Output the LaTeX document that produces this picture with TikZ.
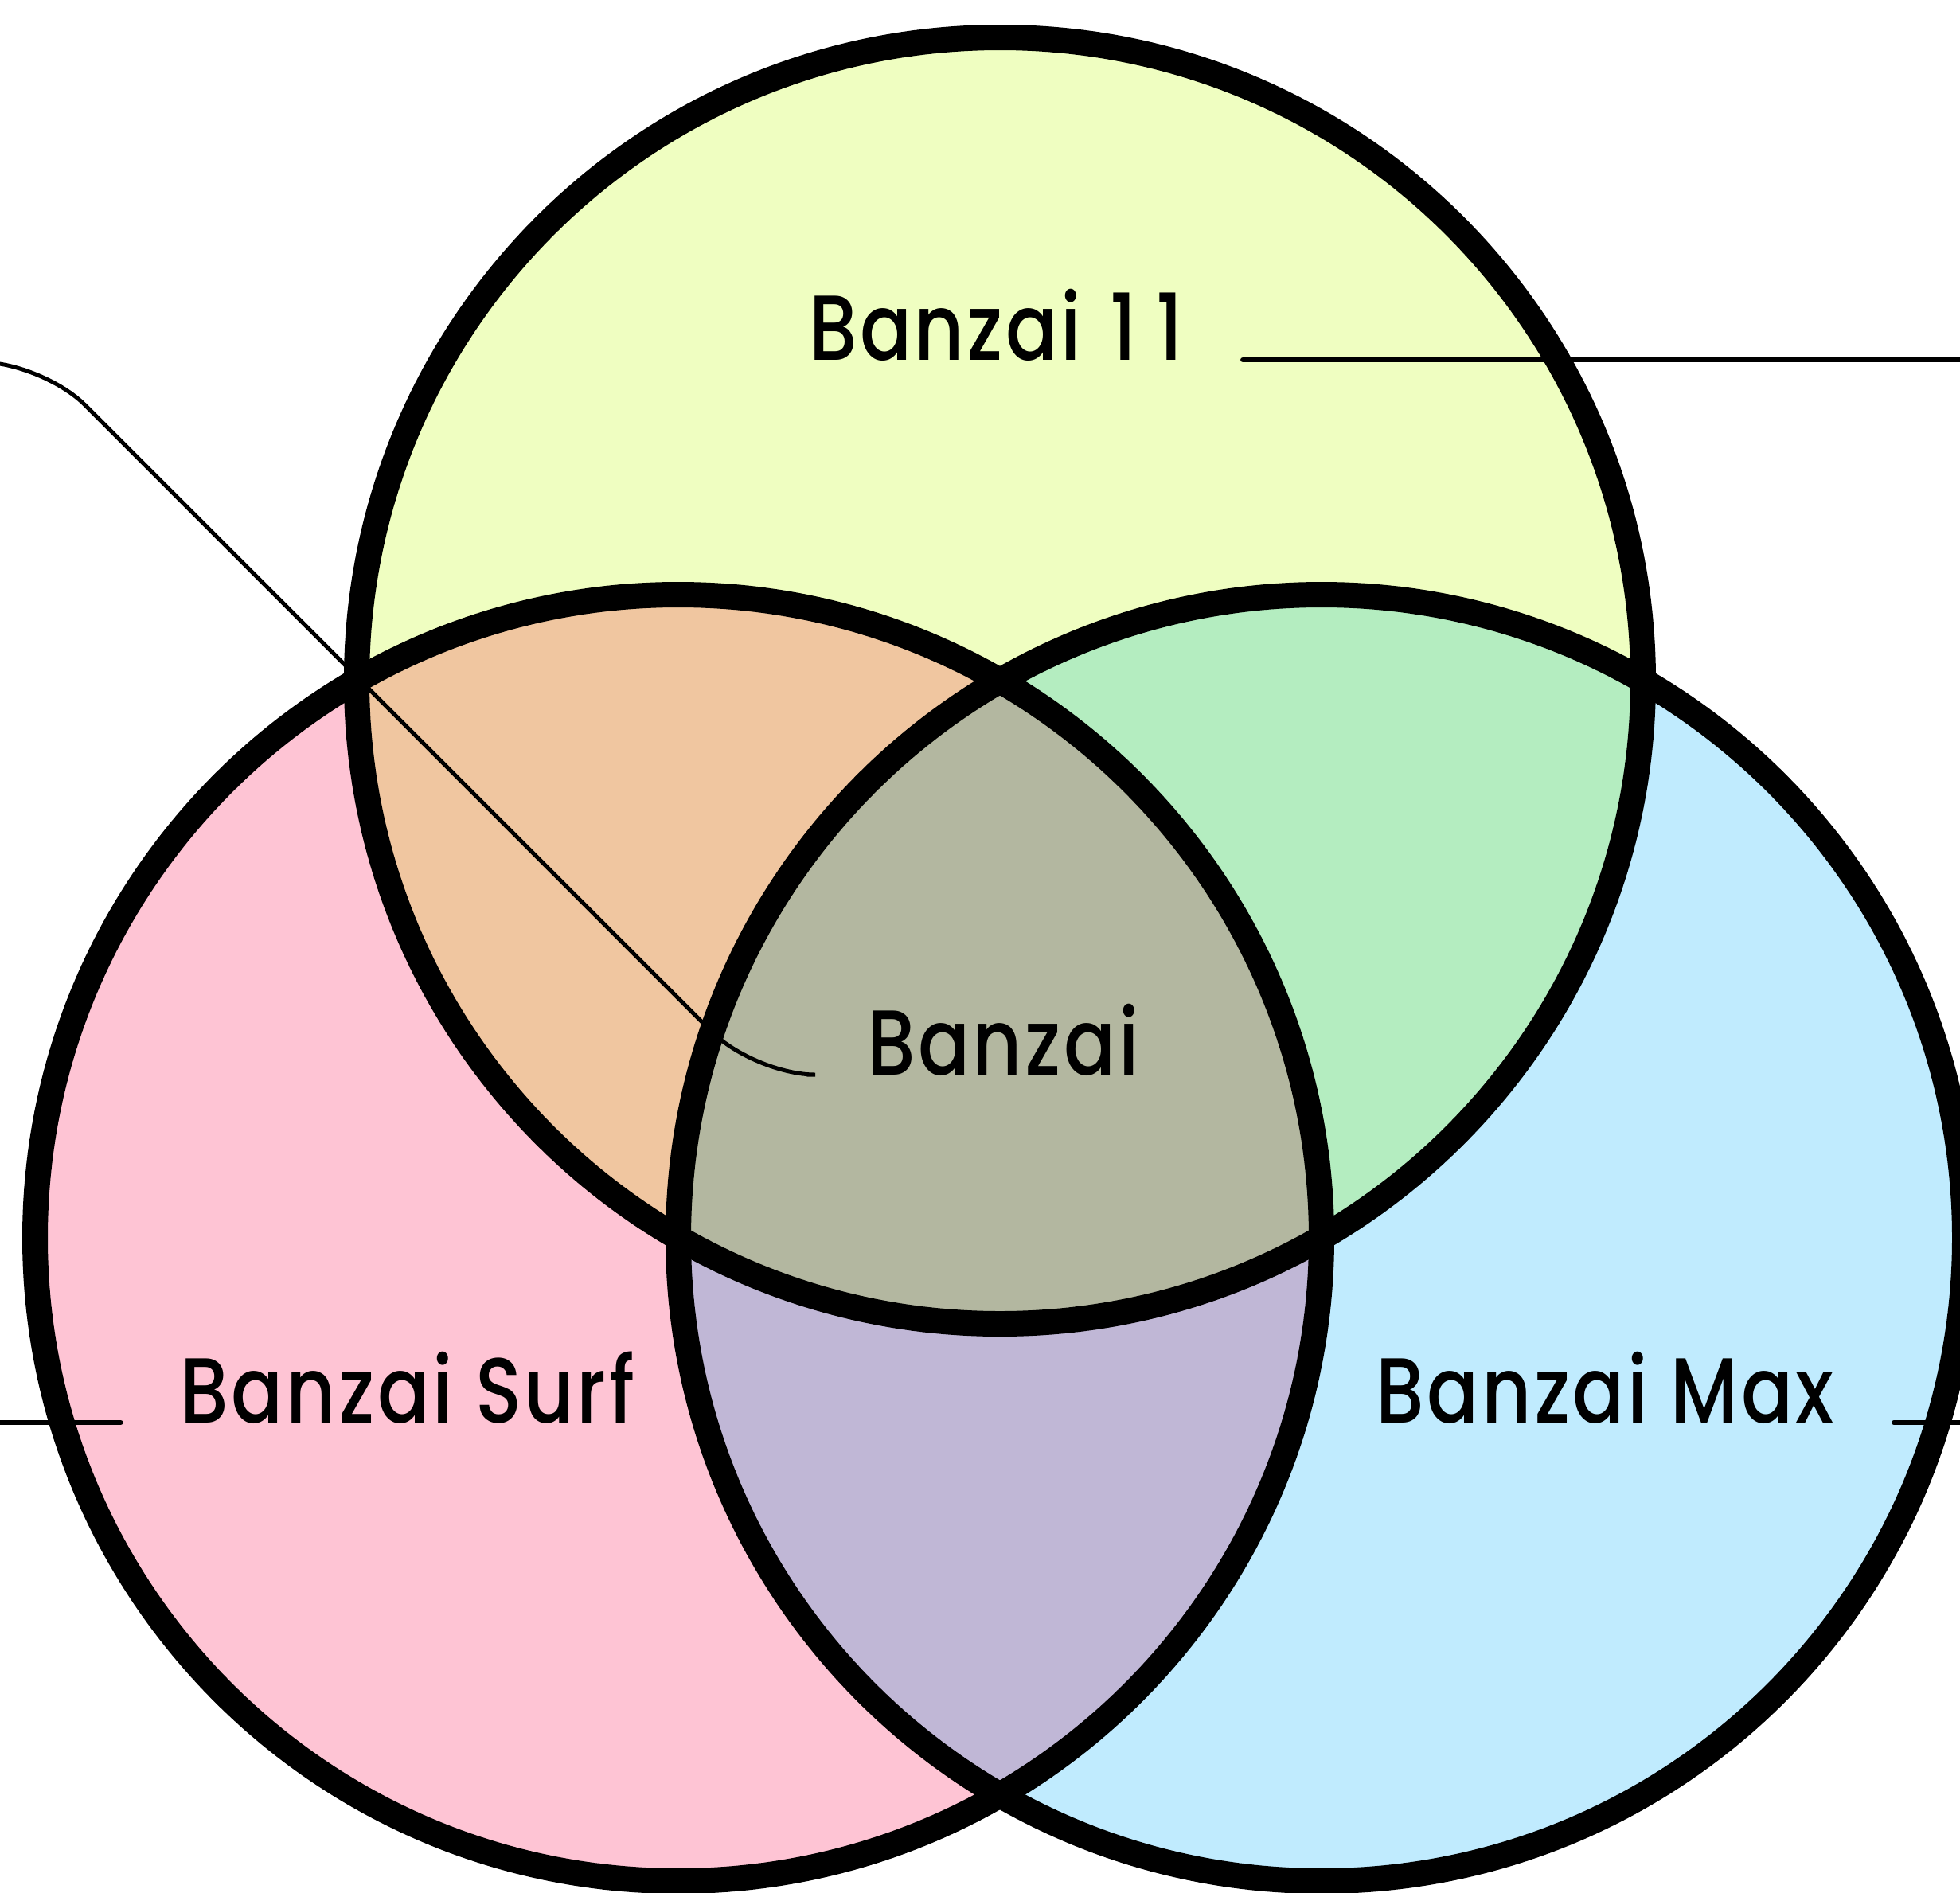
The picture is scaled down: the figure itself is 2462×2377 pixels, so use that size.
\documentclass[tikz,border=0pt]{standalone}
\usepackage{fontspec}
\IfFontExistsTF{Poppins Medium}
    {\setmainfont{Poppins Medium}[FakeStretch=0.83, LetterSpace=3]}
    {\setmainfont{Poppins}[FakeStretch=0.83, LetterSpace=3, FakeBold=2]}
\usetikzlibrary{positioning,calc}

\definecolor{onlyeleven}{HTML}{EFFEC1}
\definecolor{onlysurf}{HTML}{FEC4D4}
\definecolor{onlymax}{HTML}{C0EBFE}
\definecolor{elevensurf}{HTML}{F0C6A0}
\definecolor{elevenmax}{HTML}{B4EDC0}
\definecolor{surfmax}{HTML}{C0B7D6}
\definecolor{allthree}{HTML}{B3B7A0}

\tikzset{
    ring/.style={draw=black, line width=32pt},
    leader/.style={draw=black, line width=6pt, line cap=round},
    setname/.style={inner sep=0pt, anchor=base, font=\fontsize{116}{124}\selectfont}
}

\begin{document}
\begin{tikzpicture}[x=1pt,y=-1pt]
    \clip (0,0) rectangle (2462,2377);
    \coordinate (T) at (1256,855);
    \coordinate (L) at (852,1555);
    \coordinate (R) at (1660,1555);
    % the three sets
    \fill[onlyeleven] (T) circle (808pt);
    \fill[onlysurf] (L) circle (808pt);
    \fill[onlymax] (R) circle (808pt);
    % pairwise overlaps
    \begin{scope}
        \clip (T) circle (808pt);
        \fill[elevensurf] (L) circle (808pt);
        \fill[elevenmax] (R) circle (808pt);
    \end{scope}
    \begin{scope}
        \clip (L) circle (808pt);
        \fill[surfmax] (R) circle (808pt);
        \clip (R) circle (808pt);
        \fill[allthree] (T) circle (808pt);
    \end{scope}
    \path[ring] (T) circle (808pt);
    \path[ring] (L) circle (808pt);
    \path[ring] (R) circle (808pt);
    % names
    \node[setname] (b11) at (1251,452) {Banzai\kern8pt{} 1\kern24pt1};
    \node[setname] (bz) at (1260,1350) {Banzai};
    \node[setname] (bsurf) at (512,1787) {Banzai Surf};
    \node[setname] (bmax) at (2016,1787) {Banzai Max};
    \coordinate (east) at (2462,0);
    \coordinate (west) at (0,0);
    \coordinate (bendlow) at (948,1350);
    \coordinate (bendhigh) at (53,455);
    \coordinate (far) at (-100,455);
    % leaders
    \path[leader] ([xshift=75pt]b11.base east) -- (b11.base east -| east);
    \path[leader] ([xshift=-75pt]bsurf.base west) -- (bsurf.base west -| west);
    \path[leader] ([xshift=75pt]bmax.base east) -- (bmax.base east -| east);
    \path[leader, line width=5pt, rounded corners=76pt] ([xshift=-75pt]bz.base west) -- (bendlow) -- (bendhigh) -- (far);
\end{tikzpicture}
\end{document}
